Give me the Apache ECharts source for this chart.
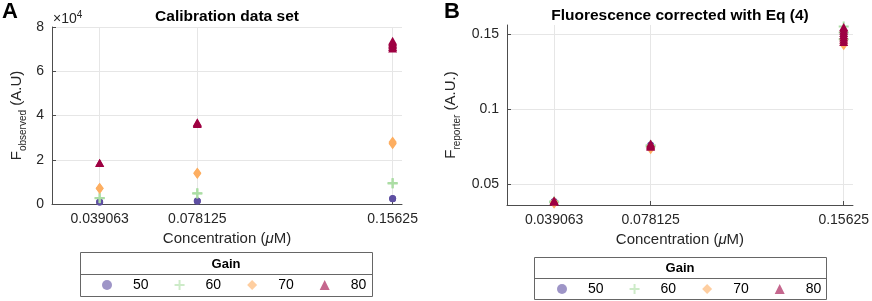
<!DOCTYPE html>
<html>
<head>
<meta charset="utf-8">
<script src="https://cdn.jsdelivr.net/npm/echarts@6/dist/echarts.min.js"></script>
<style>
  html, body { margin: 0; padding: 0; background: #fff; }
  #chart { width: 872px; height: 301px; }
</style>
</head>
<body>
<div id="chart"></div>
<script>
// concentrations (uM), shared by both panels
const concentrations = [0.039063, 0.078125, 0.15625];
const gains = ['50', '60', '70', '80'];
const gainColors = ['#5e4fa2', '#abdda4', '#fdae61', '#9e0142'];

// panel A: F observed, replicates per concentration
const observed50 = [[900, 950], [1350, 1400], [2350, 2450]];
const observed60 = [[2600, 2700], [4800, 4900], [9300, 9500]];
const observed70 = [[7000, 7150], [13800, 14000], [27200, 27600, 28000]];
const observed80 = [[18500, 18700], [36200, 36600, 37000], [70300, 71000, 71700, 72400, 73100, 73800]];

// panel B: F reporter, replicates per concentration
const reporter50 = [[0.0380, 0.0384], [0.0752, 0.0760], [0.1470, 0.1500]];
const reporter60 = [[0.0378, 0.0383], [0.0750, 0.0758], [0.1465, 0.1510, 0.1550]];
const reporter70 = [[0.0372, 0.0378], [0.0735, 0.0748], [0.1428, 0.1445, 0.1460]];
const reporter80 = [[0.0382, 0.0386, 0.0390], [0.0748, 0.0755, 0.0762, 0.0770],
  [0.1447, 0.1462, 0.1477, 0.1492, 0.1507, 0.1522, 0.1537, 0.1547]];

const yTicksB = [0.05, 0.1, 0.15];

const FONT = '"Liberation Sans", Arial, Helvetica, sans-serif';
const symbols = [
  'circle',
  'path://M4,0h2v10h-2zM0,4h10v2h-10z',
  'diamond',
  'triangle'
];
const symbolSizes = [7, 10, [8, 11], [9, 8]];

function toPoints(reps) {
  const pts = [];
  concentrations.forEach((c, i) => {
    reps[i].forEach(v => pts.push([c, v]));
  });
  return pts;
}

function makeSeries(sets, gridIdx) {
  return sets.map((reps, k) => ({
    name: gains[k],
    type: 'scatter',
    xAxisIndex: gridIdx,
    yAxisIndex: gridIdx,
    symbol: symbols[k],
    symbolSize: symbolSizes[k],
    clip: false,
    itemStyle: { color: gainColors[k], opacity: 1 },
    data: toPoints(reps)
  }));
}

function xAxisFor(gridIdx) {
  return {
    type: 'value',
    gridIndex: gridIdx,
    min: 0.02,
    max: 0.16,
    name: '{n|Concentration (}{i|\u03bc}{n|M)}',
    nameLocation: 'middle',
    nameGap: 26,
    nameTextStyle: {
      rich: {
        n: { fontSize: 15, color: '#262626', fontFamily: FONT },
        i: { fontSize: 15, color: '#262626', fontFamily: FONT, fontStyle: 'italic' }
      }
    },
    axisLine: { lineStyle: { color: '#4d4d4d', width: 1 } },
    axisTick: { inside: true, length: 4, customValues: concentrations, lineStyle: { color: '#4d4d4d' } },
    axisLabel: {
      customValues: concentrations,
      formatter: v => String(v),
      fontSize: 14, color: '#262626', fontFamily: FONT, margin: 8
    },
    splitLine: { show: true, lineStyle: { color: '#e6e6e6', width: 1 } }
  };
}

const subRich = {
  b: { fontSize: 15, color: '#262626', fontFamily: FONT },
  s: { fontSize: 10, color: '#262626', fontFamily: FONT, padding: [12, 0, 0, 0] }
};

const chart = echarts.init(document.getElementById('chart'), null, { renderer: 'canvas' });

chart.setOption({
  animation: false,
  textStyle: { fontFamily: FONT },
  grid: [
    { left: 52, top: 27, width: 350, height: 177 },
    { left: 507, top: 25, width: 347, height: 180 }
  ],
  xAxis: [xAxisFor(0), xAxisFor(1)],
  yAxis: [
    {
      type: 'value',
      gridIndex: 0,
      min: 0,
      max: 80000,
      interval: 20000,
      name: '{b|F}{s|observed}{b| (A.U)}',
      nameLocation: 'middle',
      nameGap: 24,
      nameTextStyle: { rich: subRich },
      axisLine: { show: true, lineStyle: { color: '#4d4d4d', width: 1 } },
      axisTick: { show: true, inside: true, length: 4, lineStyle: { color: '#4d4d4d' } },
      axisLabel: { formatter: v => String(v / 10000), fontSize: 14, color: '#262626', fontFamily: FONT, margin: 8 },
      splitLine: { show: true, lineStyle: { color: '#e6e6e6', width: 1 } }
    },
    {
      type: 'value',
      gridIndex: 1,
      min: 0.036,
      max: 0.156,
      name: '{b|F}{s|reporter}{b| (A.U.)}',
      nameLocation: 'middle',
      nameGap: 45,
      nameTextStyle: { rich: subRich },
      axisLine: { show: true, lineStyle: { color: '#4d4d4d', width: 1 } },
      axisTick: { show: true, inside: true, length: 4, customValues: yTicksB, lineStyle: { color: '#4d4d4d' } },
      axisLabel: { customValues: yTicksB, formatter: v => String(v), fontSize: 14, color: '#262626', fontFamily: FONT, margin: 8 },
      splitLine: { show: true, lineStyle: { color: '#e6e6e6', width: 1 } }
    }
  ],
  legend: [
    {
      data: gains, left: 102, top: 278, padding: 0,
      itemWidth: 10, itemHeight: 10, itemGap: 26,
      itemStyle: { opacity: 0.6 },
      textStyle: { fontSize: 14, color: '#000', fontFamily: FONT, padding: [0, 0, 0, 16] },
      selectedMode: false
    },
    {
      data: gains, left: 557, top: 282, padding: 0,
      itemWidth: 10, itemHeight: 10, itemGap: 26,
      itemStyle: { opacity: 0.6 },
      textStyle: { fontSize: 14, color: '#000', fontFamily: FONT, padding: [0, 0, 0, 16] },
      selectedMode: false
    }
  ],
  graphic: [
    { type: 'text', left: 2, top: 1, style: { text: 'A', font: 'bold 22px ' + FONT, fill: '#000' } },
    { type: 'text', left: 444, top: 1, style: { text: 'B', font: 'bold 22px ' + FONT, fill: '#000' } },
    { type: 'text', x: 227, y: 17, style: { text: 'Calibration data set', font: 'bold 15.5px ' + FONT, fill: '#000', align: 'center', verticalAlign: 'middle' } },
    { type: 'text', x: 680, y: 16, style: { text: 'Fluorescence corrected with Eq (4)', font: 'bold 15.5px ' + FONT, fill: '#000', align: 'center', verticalAlign: 'middle' } },
    {
      type: 'text', x: 53, y: 19,
      style: {
        text: '{a|\u00d710}{p|4}',
        verticalAlign: 'middle',
        rich: {
          a: { fontSize: 14, fontFamily: FONT, fill: '#262626' },
          p: { fontSize: 10, fontFamily: FONT, fill: '#262626', padding: [0, 0, 8, 0] }
        }
      }
    },
    // legend boxes with header
    { type: 'rect', shape: { x: 80.5, y: 252.5, width: 292, height: 44 }, style: { fill: 'none', stroke: '#666', lineWidth: 1 } },
    { type: 'line', shape: { x1: 80.5, y1: 274.5, x2: 372.5, y2: 274.5 }, style: { stroke: '#666', lineWidth: 1 } },
    { type: 'text', x: 226, y: 264, style: { text: 'Gain', font: 'bold 13px ' + FONT, fill: '#000', align: 'center', verticalAlign: 'middle' } },
    { type: 'rect', shape: { x: 534.5, y: 257.5, width: 292, height: 42 }, style: { fill: 'none', stroke: '#666', lineWidth: 1 } },
    { type: 'line', shape: { x1: 534.5, y1: 278.5, x2: 826.5, y2: 278.5 }, style: { stroke: '#666', lineWidth: 1 } },
    { type: 'text', x: 680, y: 268, style: { text: 'Gain', font: 'bold 13px ' + FONT, fill: '#000', align: 'center', verticalAlign: 'middle' } }
  ],
  series: [
    ...makeSeries([observed50, observed60, observed70, observed80], 0),
    ...makeSeries([reporter50, reporter60, reporter70, reporter80], 1)
  ]
});
</script>
</body>
</html>
